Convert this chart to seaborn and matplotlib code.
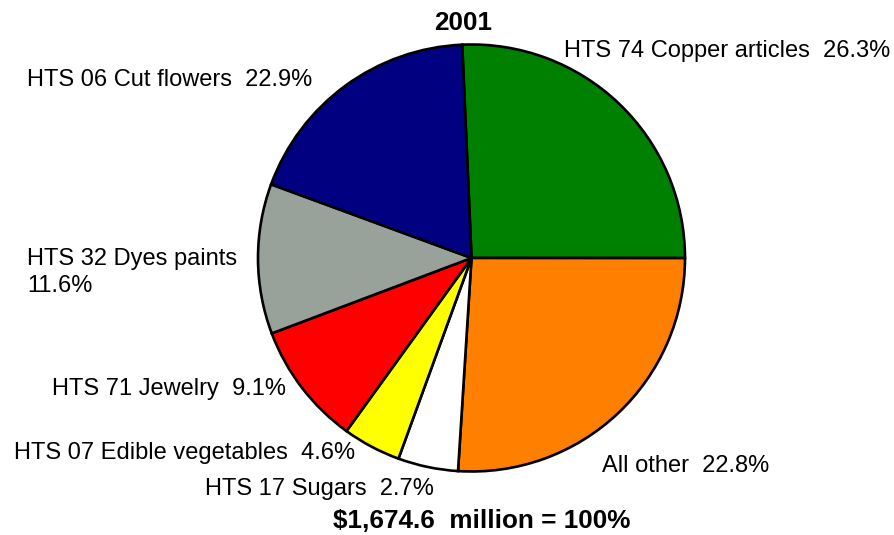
import matplotlib
matplotlib.use("Agg")
from matplotlib import pyplot as plt
import seaborn as sns

# slice sizes as drawn in the picture (percent of the circle), clockwise from the top
categories = ["HTS 74 Copper articles", "All other", "HTS 17 Sugars",
              "HTS 07 Edible vegetables", "HTS 71 Jewelry", "HTS 32 Dyes paints",
              "HTS 06 Cut flowers"]
shares = [25.7, 26.0, 4.55, 4.4, 9.3, 11.35, 18.7]
# percentages as printed on the labels
label_pct = ["26.3%", "22.8%", "2.7%", "4.6%", "9.1%", "11.6%", "22.9%"]
colors = ["#008000", "#FF8000", "#FFFFFF", "#FFFF00", "#FF0000", "#98A29A", "#000080"]
title = "2001"
total_text = "$1,674.6  million = 100%"

W, H = 894, 535


def px(x, y):
    # pixel position (from top left) -> figure fraction
    return x / W, 1 - y / H


sns.set_style("white")
plt.rcParams["font.family"] = ["Liberation Sans", "DejaVu Sans"]
plt.rcParams["text.color"] = "black"

fig = plt.figure(figsize=(W / 100, H / 100), dpi=100)

# pie centre at (471.5, 258) px, radius 213.5 px
cx, cy, r = 471.5, 258, 213.5
ax = fig.add_axes([(cx - r) / W, (H - cy - r) / H, 2 * r / W, 2 * r / H])
ax.pie(shares, colors=colors, startangle=92.5, counterclock=False, radius=1,
       wedgeprops=dict(edgecolor="black", linewidth=1.9))
ax.set_xlim(-1, 1)
ax.set_ylim(-1, 1)
ax.axis("off")

# label positions: left x, baseline y (pixels)
label_pos = [(564, 56.5), (601.5, 471.5), (205, 495.5), (13.5, 459.5),
             (52.5, 395), (27, 265), (27, 86)]
for name, pct, (x, y) in zip(categories, label_pct, label_pos):
    if name == "HTS 32 Dyes paints":
        fig.text(*px(x, y), name, fontsize=17, ha="left", va="baseline", color="black")
        fig.text(*px(x, y + 26.7), pct, fontsize=17, ha="left", va="baseline", color="black")
    else:
        fig.text(*px(x, y), name + "  " + pct, fontsize=17, ha="left", va="baseline",
                 color="black")

fig.text(*px(463, 30), title, fontsize=18.8, fontweight="bold", ha="center",
         va="baseline", color="black")
fig.text(*px(333, 528.5), total_text, fontsize=18.8, fontweight="bold", ha="left",
         va="baseline", color="black")

plt.savefig("out.png", dpi=100)
